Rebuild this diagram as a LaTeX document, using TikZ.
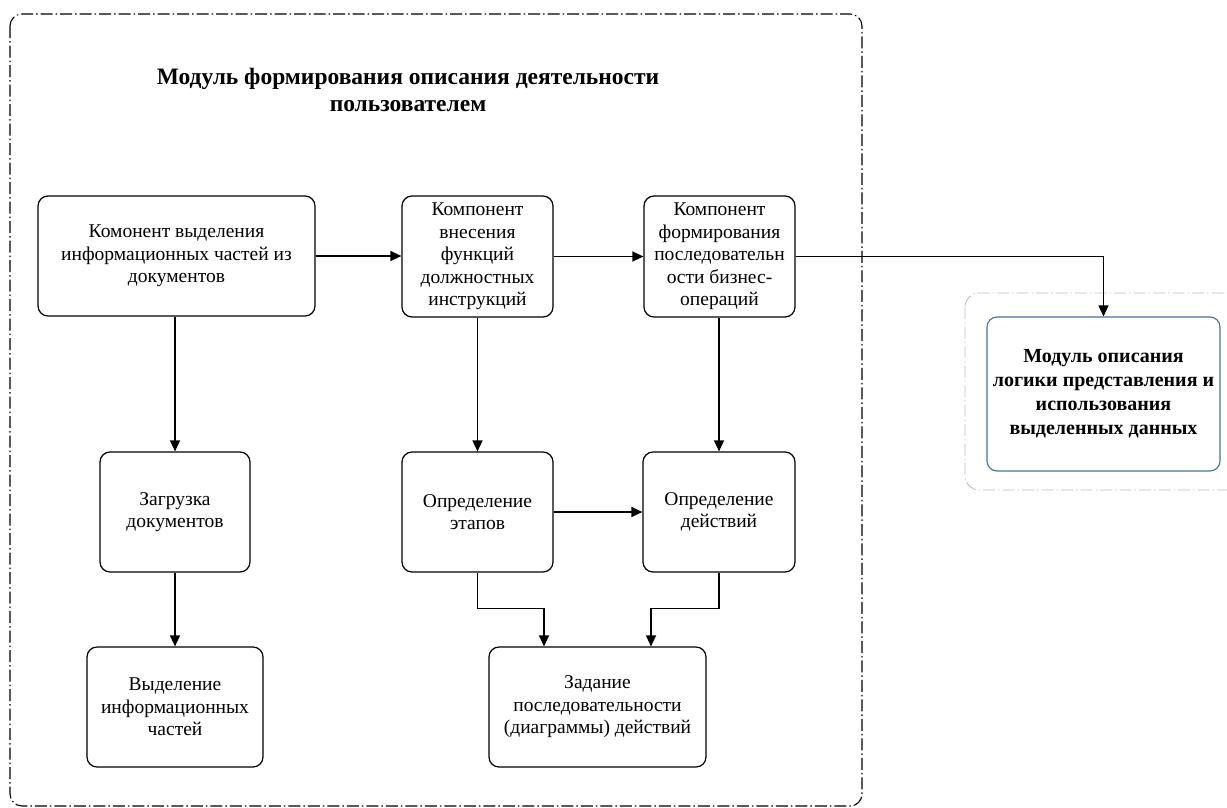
\documentclass[tikz,border=0pt]{standalone}
\usepackage{fontspec}
\setmainfont{Liberation Serif}
\usetikzlibrary{arrows.meta,calc}
\begin{document}
\begin{tikzpicture}[x=1pt,y=1pt,
  box/.style={draw=black, line width=1.2pt, rounded corners=10pt, align=center,
    inner sep=0pt, font=\rmfamily\fontsize{19.5}{22.5}\selectfont},
  arr/.style={line width=1.4pt, -{Triangle[length=11pt,width=10pt]}},
  ddot/.style={dash pattern=on 12pt off 3pt on 1.5pt off 3pt},
]
\useasboundingbox (0,0) rectangle (1227,-807);
% outer module frame
\draw[ddot, line width=1.1pt, rounded corners=12pt] (10,-14) rectangle (862,-806);
% right grey frame
\draw[ddot, line width=0.9pt, draw=black!25, rounded corners=14pt] (965,-293) rectangle (1245,-490);

\node[font=\rmfamily\bfseries\fontsize{23.5}{27}\selectfont, align=center] (T) at (408,-90)
  {Модуль формирования описания деятельности\\пользователем};

\node[box, minimum width=277pt, minimum height=120pt] (A) at (176.5,-256)
  {Комонент выделения\\информационных частей из\\документов};
\node[box, minimum width=151pt, minimum height=121pt] (B) at (477.5,-256.5)
  {Компонент\\внесения\\функций\\должностных\\инструкций};
\node[box, minimum width=151pt, minimum height=121pt] (C) at (719.5,-256.5)
  {Компонент\\формирования\\последовательн\\ости бизнес-\\операций};
\node[box, minimum width=150pt, minimum height=120pt] (D) at (175,-512)
  {Загрузка\\документов};
\node[box, minimum width=151pt, minimum height=120pt] (E) at (477.5,-512)
  {Определение\\этапов};
\node[box, minimum width=152pt, minimum height=120pt] (F) at (719,-512)
  {Определение\\действий};
\node[box, minimum width=176pt, minimum height=120pt] (G) at (175,-707)
  {Выделение\\информационных\\частей};
\node[box, minimum width=217pt, minimum height=120pt] (H) at (597.5,-707)
  {Задание\\последовательности\\(диаграммы) действий};
\node[box, draw={rgb,255:red,65;green,113;blue,156}, line width=1.1pt,
  minimum width=233pt, minimum height=154pt,
  font=\rmfamily\bfseries\fontsize{20}{24}\selectfont] (M) at (1103.5,-394)
  {Модуль описания\\логики представления и\\использования\\выделенных данных};

\draw[arr] (A.east) -- (A.east -| B.west);
\draw[arr] (B.east) -- (B.east -| C.west);
\draw[arr] (C.east) -| (M.north);
\draw[arr] (A.south -| D.north) -- (D.north);
\draw[arr] (D.south) -- (G.north);
\draw[arr] (B.south) -- (B.south |- E.north);
\draw[arr] (C.south -| F.north) -- (F.north);
\draw[arr] (E.east) -- (E.east -| F.west);
\draw[arr] (E.south) -- ++(0,-36) -| ([xshift=-53.5pt]H.north);
\draw[arr] (F.south) -- ++(0,-36) -| ([xshift=53.5pt]H.north);
\end{tikzpicture}
\end{document}
